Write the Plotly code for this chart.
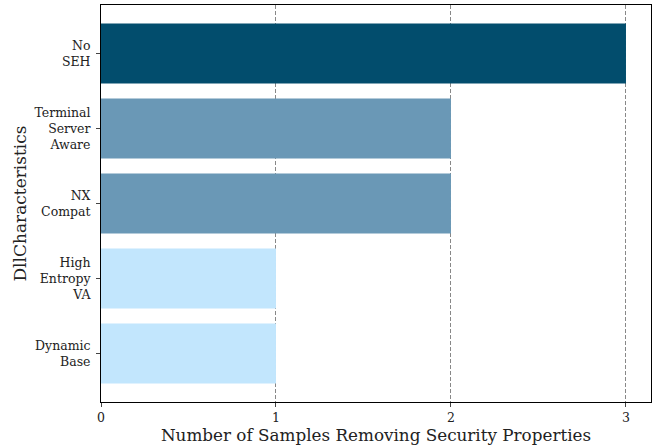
import plotly.graph_objects as go

categories = ["Dynamic<br>Base", "High<br>Entropy<br>VA", "NX<br>Compat", "Terminal<br>Server<br>Aware", "No<br>SEH"]
values = [1, 1, 2, 2, 3]
colors = ["#c2e6fd", "#c2e6fd", "#6a98b6", "#6a98b6", "#024d6d"]

font_family = "DejaVu Serif"

fig = go.Figure(go.Bar(
    y=list(range(len(categories))), x=values, orientation="h",
    marker=dict(color=colors, line=dict(width=0)), width=0.8,
))

fig.update_layout(
    width=654, height=448,
    margin=dict(l=101, r=3, t=5, b=46),
    paper_bgcolor="white", plot_bgcolor="white",
    font=dict(family=font_family, color="#222"),
    showlegend=False,
)
fig.update_xaxes(
    range=[0, 3.143], tickvals=[0, 1, 2, 3], ticktext=["0", "1", "2", "3"],
    showgrid=True, gridcolor="#888", griddash="4px,2px", gridwidth=1,
    zeroline=False,
    showline=True, linecolor="black", linewidth=1, mirror=True,
    ticks="outside", ticklen=4, tickcolor="#444",
    tickfont=dict(size=12.5, family=font_family, color="#222"),
    title=dict(text="Number of Samples Removing Security Properties",
               font=dict(size=16.8, family=font_family, color="#222"), standoff=4),
)
fig.update_yaxes(
    range=[-0.645, 4.645], tickvals=list(range(len(categories))), ticktext=categories,
    showgrid=False, zeroline=False,
    showline=True, linecolor="black", linewidth=1, mirror=True,
    ticks="outside", ticklen=4, tickcolor="#444",
    ticklabelstandoff=3,
    tickfont=dict(size=12.5, family=font_family, color="#222"),
    title=dict(text="DllCharacteristics", font=dict(size=17, family=font_family, color="#222"), standoff=3),
)

fig.write_html("out.html")
